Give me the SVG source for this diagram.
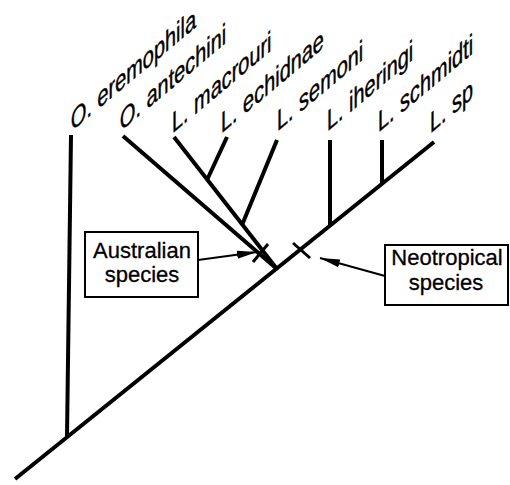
<svg xmlns="http://www.w3.org/2000/svg" width="510" height="485" viewBox="0 0 510 485">
<defs>
<style>
.br{stroke:#000;stroke-width:4;fill:none;stroke-linecap:butt}
.tk{stroke:#000;stroke-width:3;fill:none}
.lbl{font-family:"Liberation Sans",Arial,sans-serif;font-style:italic;font-size:26px;fill:#000;stroke:#000;stroke-width:0.4}
.box{fill:#fff;stroke:#000;stroke-width:2}
.bt{font-family:"Liberation Sans",Arial,sans-serif;font-size:22px;fill:#000;stroke:#000;stroke-width:0.3;text-anchor:middle}
.ar{stroke:#000;stroke-width:2;fill:none}
</style>
<marker id="ah" viewBox="0 0 20 10" refX="20" refY="5" markerWidth="20" markerHeight="10" markerUnits="userSpaceOnUse" orient="auto">
<path d="M0,1 L20,5 L0,9 Z" fill="#000"/>
</marker>
</defs>
<rect width="510" height="485" fill="#fff"/>
<g id="connectors">
<line class="br" x1="15" y1="479" x2="434" y2="142"/>
<line class="br" x1="71" y1="135" x2="67" y2="436"/>
<line class="br" x1="123" y1="136" x2="277" y2="269"/>
<line class="br" x1="174" y1="137" x2="277" y2="269"/>
<line class="br" x1="227" y1="137" x2="207" y2="180"/>
<line class="br" x1="277" y1="140" x2="242" y2="225"/>
<line class="br" x1="330" y1="140" x2="330" y2="226"/>
<line class="br" x1="382" y1="140" x2="382" y2="184"/>
<line class="tk" x1="253" y1="262" x2="268" y2="244"/>
<line class="tk" x1="293" y1="243" x2="310" y2="258"/>
<line class="ar" x1="198" y1="260" x2="257" y2="252" marker-end="url(#ah)"/>
<line class="ar" x1="385" y1="276" x2="320" y2="258" marker-end="url(#ah)"/>
</g>
<g id="labels">
<text class="lbl" transform="matrix(0.766,-0.643,0.15,1,72,131)">O. eremophila</text>
<text class="lbl" transform="matrix(0.766,-0.643,0.15,1,121,131)">O. antechini</text>
<text class="lbl" transform="matrix(0.766,-0.643,0.15,1,173,133)">L. macrouri</text>
<text class="lbl" transform="matrix(0.766,-0.643,0.15,1,222,133)">L. echidnae</text>
<text class="lbl" transform="matrix(0.766,-0.643,0.15,1,278,131)">L. semoni</text>
<text class="lbl" transform="matrix(0.766,-0.643,0.15,1,328,131)">L. iheringi</text>
<text class="lbl" transform="matrix(0.766,-0.643,0.15,1,379,132)">L. schmidti</text>
<text class="lbl" transform="matrix(0.766,-0.643,0.15,1,431,133)">L. sp</text>
</g>
<g id="australian">
<rect class="box" x="85" y="232" width="113" height="65"/>
<text class="bt" x="142" y="258">Australian</text>
<text class="bt" x="142" y="282">species</text>
</g>
<g id="neotropical">
<rect class="box" x="385" y="245" width="123" height="60"/>
<text class="bt" x="447" y="265">Neotropical</text>
<text class="bt" x="446" y="290">species</text>
</g>
</svg>
